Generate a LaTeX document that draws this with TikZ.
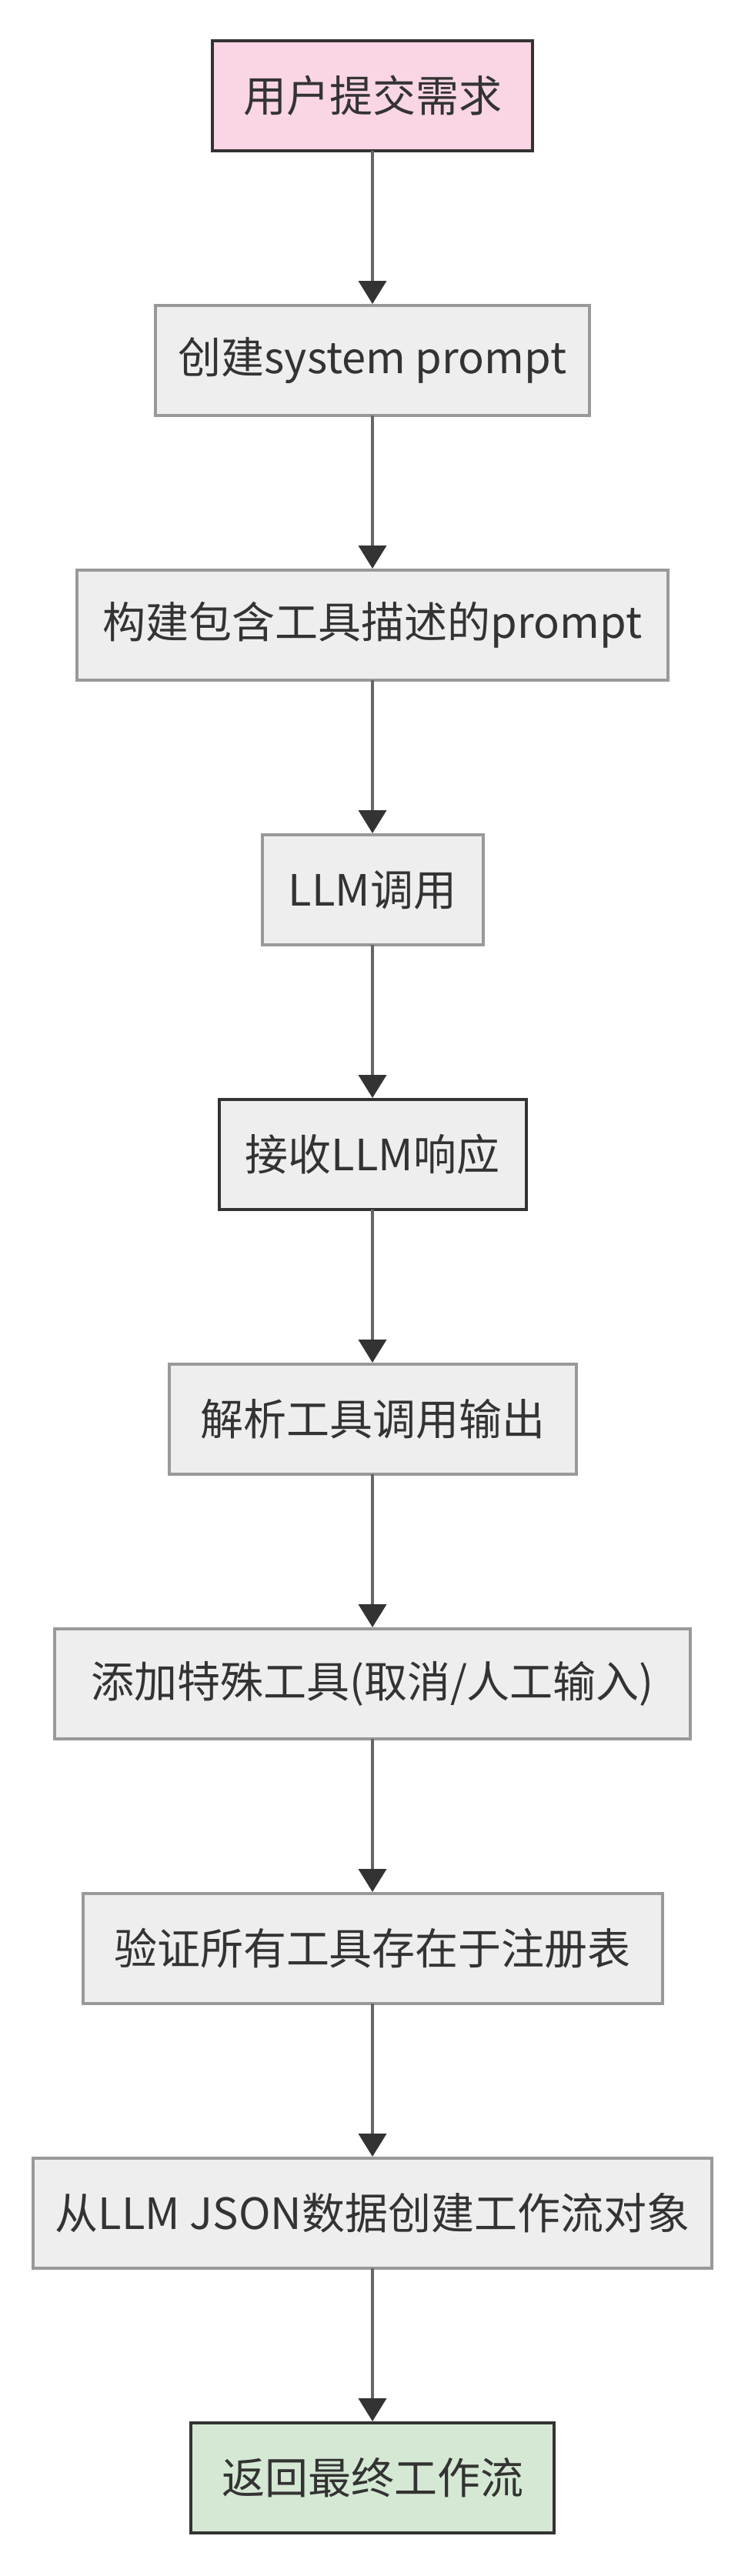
\documentclass[tikz,border=0pt]{standalone}
\usepackage{fontspec}
\setmainfont{Noto Sans CJK SC}
\usepackage{xcolor}
\usetikzlibrary{arrows.meta,positioning}
\definecolor{edgegray}{HTML}{666666}
\definecolor{darkline}{HTML}{333333}
\definecolor{boxgray}{HTML}{EEEEEE}
\definecolor{bordergray}{HTML}{999999}
\definecolor{startpink}{HTML}{F9D5E5}
\definecolor{endgreen}{HTML}{D5E8D4}
\tikzstyle{arrow} = [line width=2pt,draw=edgegray,-{Triangle[width=18pt,length=15pt,color=darkline]},shorten >=1pt]

\begin{document}
\begin{tikzpicture}[
        node distance=100.5pt,
        every node/.style={align=center, font=\fontsize{28pt}{34pt}\selectfont, text=darkline,
            inner sep=0pt, outer sep=0pt, minimum height=71.5pt, line width=2pt},
        stepbox/.style={draw=bordergray, fill=boxgray},
        keybox/.style={draw=darkline, fill=boxgray},
        startbox/.style={draw=darkline, fill=startpink},
        endbox/.style={draw=darkline, fill=endgreen}
        ]
        \useasboundingbox (0,0) rectangle (486pt,-1674pt);
        \node[startbox, minimum width=208pt] (req) at (242pt,-62.25pt) {用户提交需求};
        \node[stepbox, minimum width=282pt, below=of req] (sysprompt) {创建system prompt};
        \node[stepbox, minimum width=384pt, below=of sysprompt] (toolprompt) {构建包含工具描述的prompt};
        \node[stepbox, minimum width=143.5pt, below=of toolprompt] (llmcall) {LLM调用};
        \node[keybox, minimum width=199.5pt, below=of llmcall] (reply) {接收LLM响应};
        \node[stepbox, minimum width=264.5pt, below=of reply] (parse) {解析工具调用输出};
        \node[stepbox, minimum width=413pt, below=of parse] (special) {添加特殊工具(取消/人工输入)};
        \node[stepbox, minimum width=376.5pt, below=of special] (check) {验证所有工具存在于注册表};
        \node[stepbox, minimum width=441pt, below=of check] (build) {从LLM JSON数据创建工作流对象};
        \node[endbox, minimum width=236pt, below=of build] (result) {返回最终工作流};
        % connectors
        \draw[arrow] (req) -- (sysprompt);
        \draw[arrow] (sysprompt) -- (toolprompt);
        \draw[arrow] (toolprompt) -- (llmcall);
        \draw[arrow] (llmcall) -- (reply);
        \draw[arrow] (reply) -- (parse);
        \draw[arrow] (parse) -- (special);
        \draw[arrow] (special) -- (check);
        \draw[arrow] (check) -- (build);
        \draw[arrow] (build) -- (result);
\end{tikzpicture}
\end{document}
